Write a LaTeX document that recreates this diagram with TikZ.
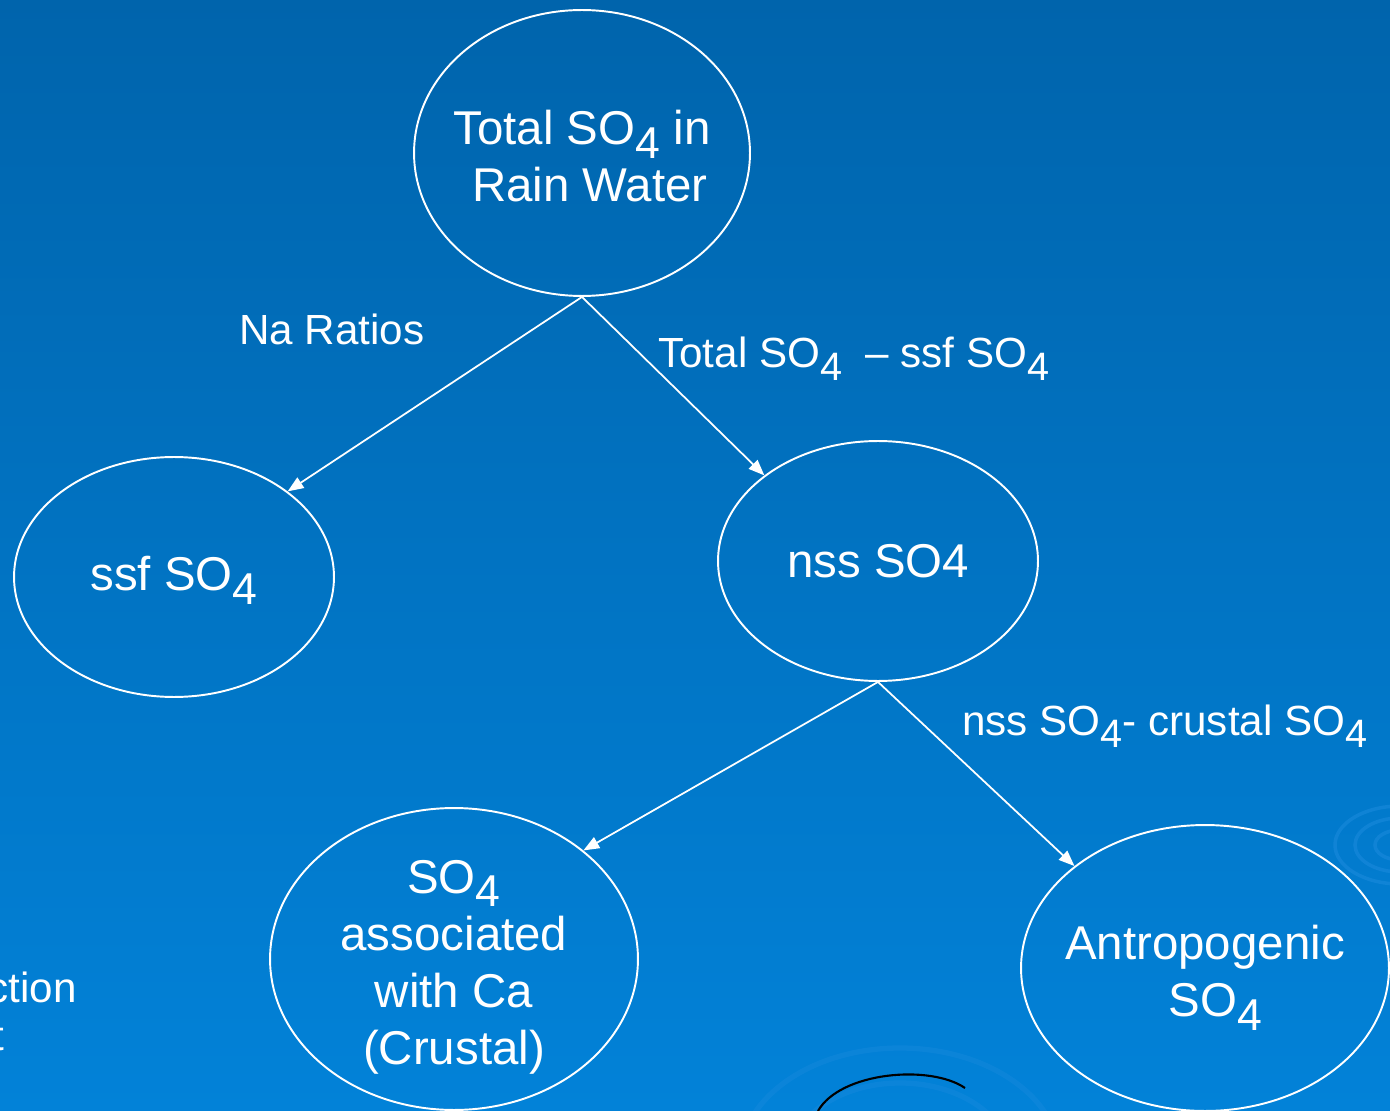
\documentclass[tikz,border=0pt]{standalone}
\usepackage{fontspec}
\setmainfont{Liberation Sans}
\usepackage{tikz}
\usetikzlibrary{shapes.geometric,arrows.meta}

\definecolor{bgtop}{RGB}{0,100,172}
\definecolor{bgmid}{RGB}{0,108,184}
\definecolor{bgbot}{RGB}{2,130,216}
\definecolor{swirl}{RGB}{30,140,222}

% lowered subscript in text font
\newcommand{\sbs}[1]{\raisebox{-0.55ex}{\scalebox{0.94}{#1}}}

\begin{document}
\begin{tikzpicture}[
    x=0.02cm, y=-0.02cm,
    blob/.style={ellipse, draw=white, line width=1.1pt, inner sep=0pt},
    blobtext/.style={text=white, align=center, inner sep=0pt, font=\fontsize{27}{32.5}\selectfont},
    lbl/.style={text=white, inner sep=0pt, anchor=base west, font=\fontsize{24}{28}\selectfont},
    arrow/.style={-{Triangle[length=9pt,width=7pt]}, draw=white, line width=1pt}
]
% background
\useasboundingbox (0,0) rectangle (1390,1111);
\shade[top color=bgtop, middle color=bgmid, bottom color=bgbot] (0,0) rectangle (1390,1111);
\begin{scope}
\clip (0,0) rectangle (1390,1111);
\foreach \r in {25,45,65}
  \draw[swirl, line width=2pt, opacity=0.5] (1400,845) ellipse ({\r} and {0.6*\r});
\foreach \r in {60,110,160}
  \draw[swirl, line width=3pt, opacity=0.35] (900,1160) ellipse ({\r} and {0.7*\r});
\draw[black, line width=1.2pt] (818,1111) .. controls (840,1072) and (930,1064) .. (965,1088);
\end{scope}
% Root
\node[blob, minimum width=6.72cm, minimum height=5.72cm,
      label={[blobtext, yshift=-0.06cm]center:Total SO\sbs{4} in\\\hspace*{9pt}Rain Water}] (total) at (582,153) {};
% First split
\node[blob, minimum width=6.4cm, minimum height=4.8cm,
      label={[blobtext, yshift=-0.06cm]center:ssf SO\sbs{4}}] (ssf) at (174,577) {};
\node[blob, minimum width=6.4cm, minimum height=4.8cm,
      label={[blobtext]center:nss SO4}] (nss) at (878,561) {};
% Second split
\node[blob, minimum width=7.36cm, minimum height=6.04cm,
      label={[blobtext, yshift=-0.16cm]center:SO\sbs{4}\\associated\\with Ca\\(Crustal)}] (crust) at (454,959) {};
\node[blob, minimum width=7.36cm, minimum height=5.72cm,
      label={[blobtext, yshift=-0.2cm]center:Antropogenic\\\hspace*{12pt}SO\sbs{4}}] (anthro) at (1205,968) {};
% Labels
\node[lbl] (naratio) at (239,345) {Na Ratios};
\node[lbl] (diff1) at (658,368) {Total SO\sbs{4} \ – ssf SO\sbs{4}};
\node[lbl] (diff2) at (962,735) {nss SO\sbs{4}- crustal SO\sbs{4}};
% cut text at the left edge
\node[lbl, anchor=base east] (cut1) at (77,1002) {ction};
\node[lbl, anchor=base east] (cut2) at (5,1050) {t};
% Arrows
\draw[arrow] (total.south) -- (ssf.37);
\draw[arrow] (total.south) -- (nss.143);
\draw[arrow] (nss.south) -- (crust.40);
\draw[arrow] (nss.south) -- (anthro.142);
\end{tikzpicture}
\end{document}
